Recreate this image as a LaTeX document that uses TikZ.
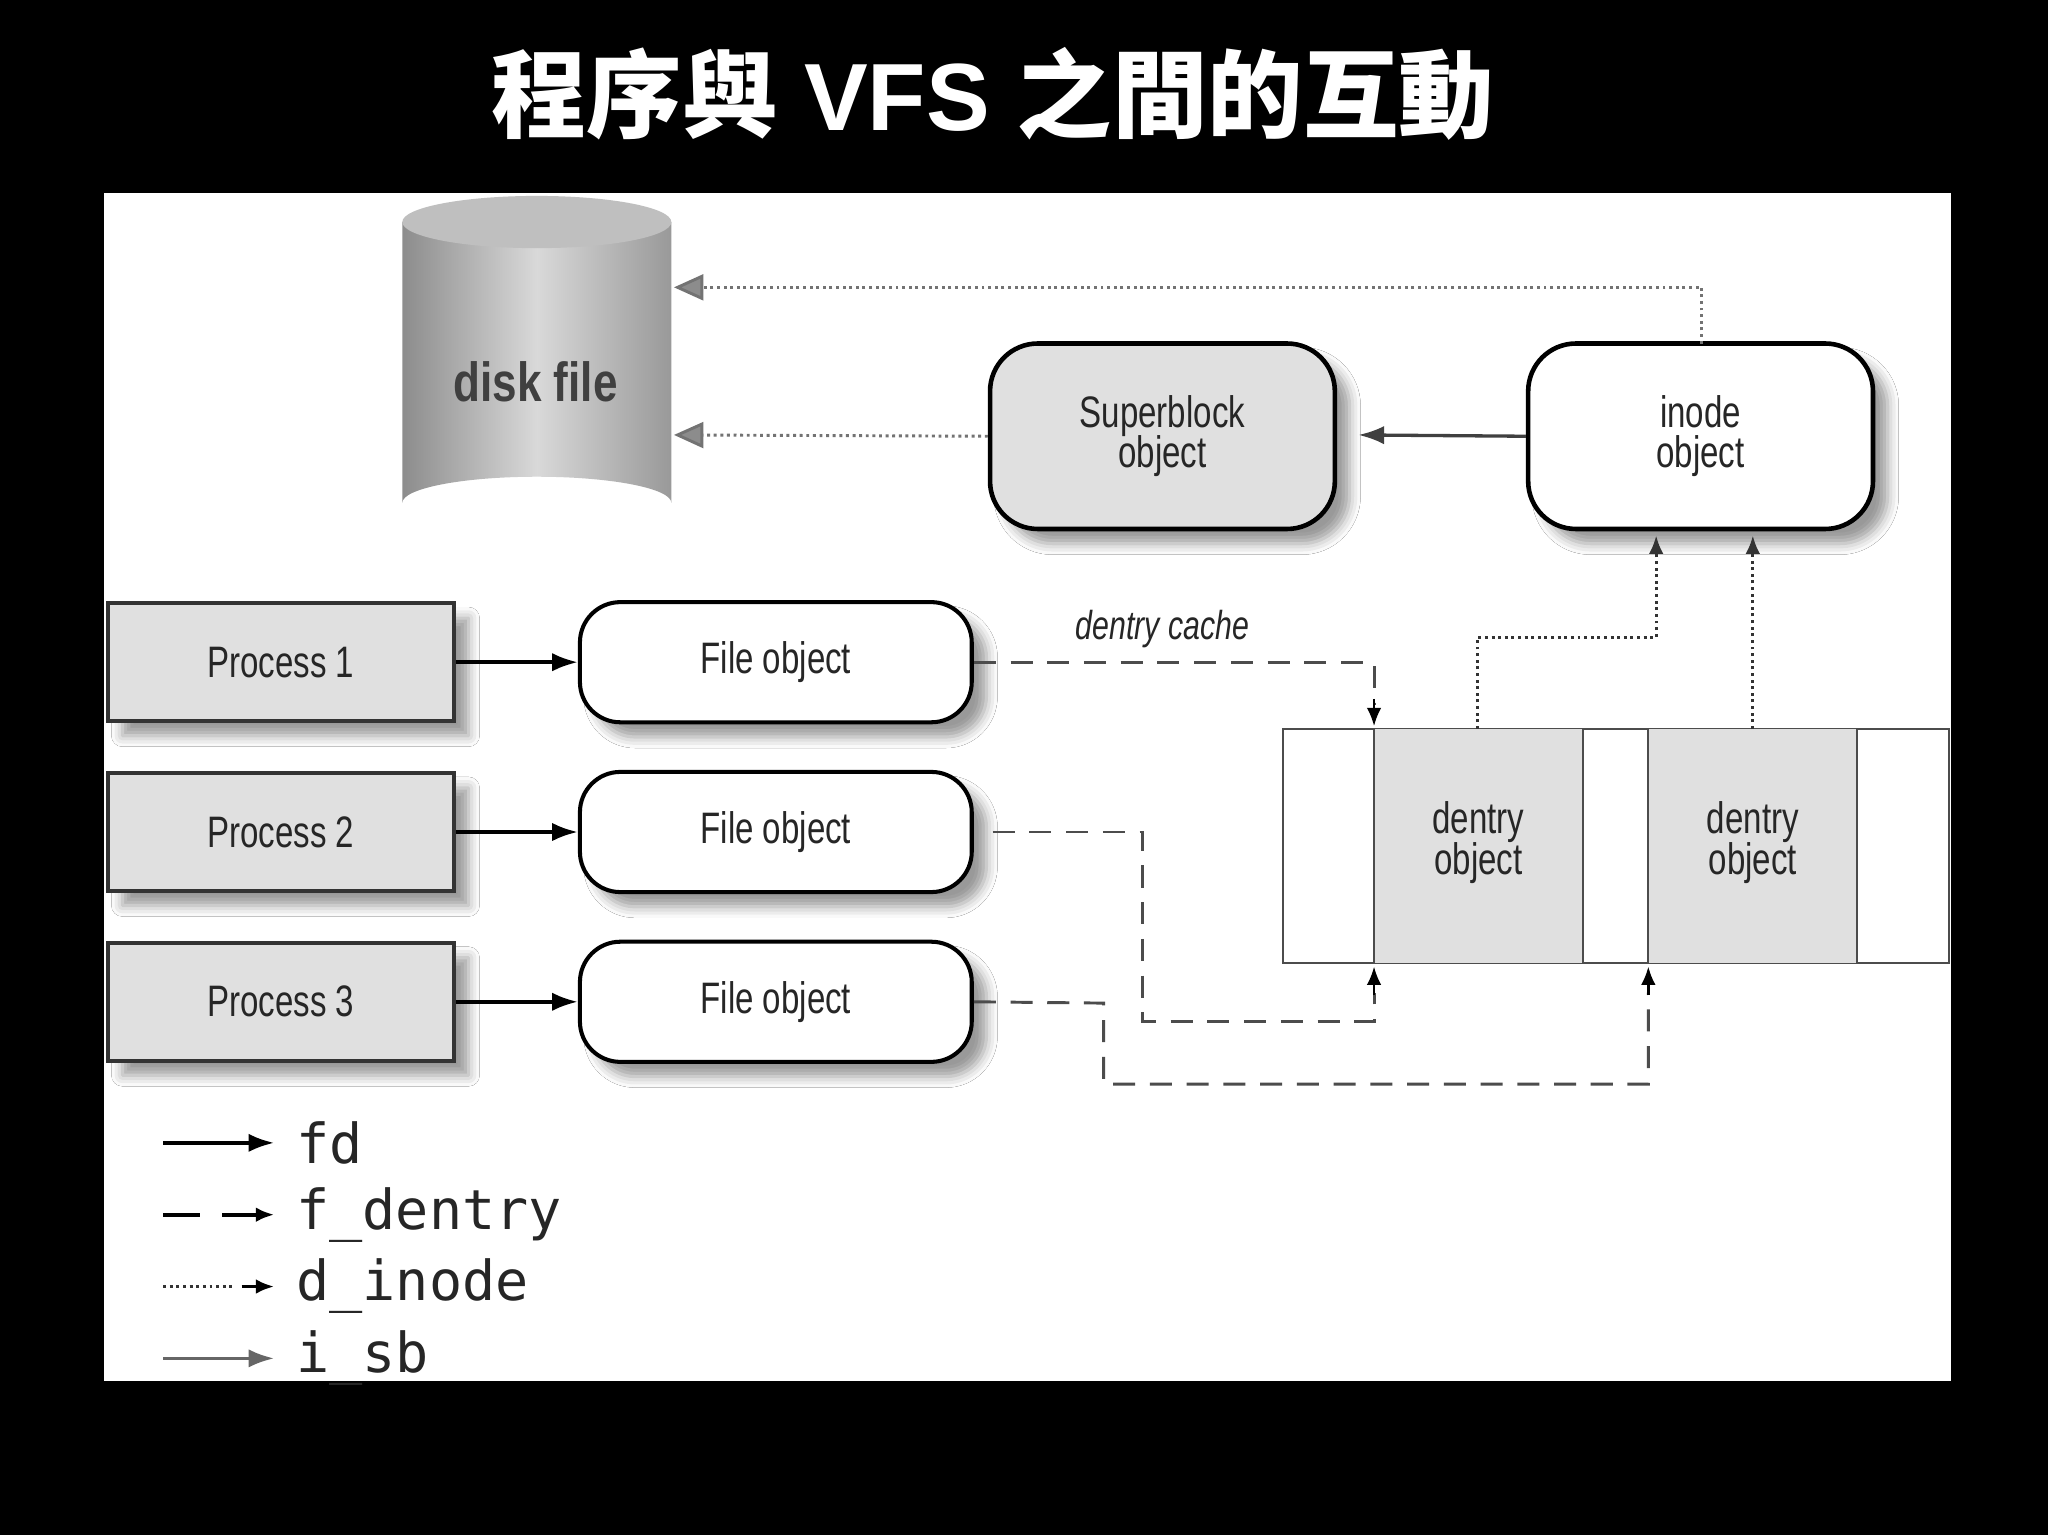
\documentclass[tikz,border=0pt]{standalone}
\usepackage{fontspec}
\setmainfont{Liberation Sans}
\newfontfamily\cjk{Noto Sans CJK TC}
\newfontfamily\mono{DejaVu Sans Mono}
\usetikzlibrary{arrows.meta,shadows.blur}
\begin{document}
\begin{tikzpicture}[x=0.025cm,y=-0.025cm,
  lbl/.style={font=\fontsize{24}{26}\selectfont\addfontfeatures{FakeStretch=0.75},align=center,text=black!85},
  proc/.style={draw=black!80,line width=2.2pt,fill=black!12,minimum width=265*0.025cm,minimum height=90*0.025cm,blur shadow={shadow xshift=8pt,shadow yshift=-8pt,shadow blur radius=6pt},lbl},
  fobj/.style={draw=black,line width=2.2pt,fill=white,rounded corners=22pt,minimum width=300*0.025cm,minimum height=92*0.025cm,blur shadow={shadow xshift=8pt,shadow yshift=-8pt,shadow blur radius=6pt},lbl},
  big/.style={draw=black,line width=2.5pt,rounded corners=26pt,minimum width=264*0.025cm,minimum height=142*0.025cm,blur shadow={shadow xshift=8pt,shadow yshift=-8pt,shadow blur radius=6pt},lbl},
  fd/.style={line width=2pt,-{Latex[length=14pt,width=10pt]}},
  fden/.style={line width=1.6pt,dash pattern=on 12pt off 8pt,draw=black!70},
  din/.style={line width=1.6pt,dotted,draw=black!70},
  gtip/.style={-{Triangle[length=16pt,width=14pt,fill=black!45]},draw=black!55},
  stip/.style={-{Latex[length=10pt,width=8pt]}}]
\fill[black] (0,0) rectangle (1568,1175);
\useasboundingbox (0,0) rectangle (1568,1175);
\fill[white] (80,148) rectangle (1494,1057);
\node[text=white,font=\fontsize{52}{56}\selectfont\bfseries] (title) at (760,72) {{\cjk 程序與} VFS {\cjk 之間的互動}};
% cylinder
\shade[left color=black!45,right color=black!40,middle color=black!15] (308,170) -- (308,385) arc[start angle=180,end angle=360,x radius=103,y radius=20] -- (514,170) -- cycle;
\fill[black!25] (411,170) ellipse[x radius=103,y radius=20];
\node[font=\fontsize{30}{32}\selectfont\bfseries\addfontfeatures{FakeStretch=0.8},text=black!75] (disk) at (410,292) {disk file};
\coordinate (dtop) at (516,220);
\coordinate (dmid) at (516,333);
% big boxes
\node[big,fill=black!12] (sb) at (890,334) {Superblock\\[-4pt]object};
\node[big,fill=white] (ino) at (1302,334) {inode\\[-4pt]object};
\draw[line width=1.8pt,draw=black!75,-{Latex[length=14pt,width=10pt]}] (ino.west) -- (1040,333);
\draw[din,gtip] (1303,263) -- (1303,220) -- (dtop);
\draw[din,gtip] (sb.west) -- (dmid);
% processes and files
\foreach \i/\y in {1/507,2/637,3/767}{
  \node[proc] (p\i) at (215,\y) {Process \i};
  \node[fobj] (f\i) at (594,\y) {File object};
  \draw[fd] (p\i.east) -- (f\i.west);
}
% dentry cache
\draw[line width=1.2pt,draw=black!70] (982,558) rectangle (1492,737);
\fill[black!12] (1052,558) rectangle (1212,737);
\fill[black!12] (1262,558) rectangle (1422,737);
\draw[line width=1.2pt,draw=black!70] (1052,558) -- (1052,737) (1212,558) -- (1212,737) (1262,558) -- (1262,737) (1422,558) -- (1422,737);
\node[lbl] (d1) at (1132,645) {dentry\\[-4pt]object};
\node[lbl] (d2) at (1342,645) {dentry\\[-4pt]object};
\node[lbl,font=\fontsize{22}{24}\selectfont\itshape\addfontfeatures{FakeStretch=0.75}] (dc) at (890,482) {dentry cache};
% f_dentry
\draw[fden] (f1.east) -- (1052,507) -- (1052,540);
\draw[stip,line width=1.4pt] (1052,535) -- (1052,556);
\draw[fden] (760,637) -- (875,637) -- (875,782) -- (1052,782) -- (1052,760);
\draw[stip,line width=1.4pt] (1052,762) -- (1052,740);
\draw[fden] (f3.east) -- (845,768) -- (845,830) -- (1262,830) -- (1262,760);
\draw[stip,line width=1.4pt] (1262,762) -- (1262,740);
% d_inode
\draw[din,stip,draw=black!80] (1131,558) -- (1131,488) -- (1268,488) -- (1268,410);
\draw[din,stip,draw=black!80] (1342,558) -- (1342,410);
% legend
\coordinate (l1) at (125,875); \coordinate (l1e) at (210,875);
\coordinate (l2) at (125,930); \coordinate (l2e) at (210,930);
\coordinate (l3) at (125,985); \coordinate (l3e) at (210,985);
\coordinate (l4) at (125,1040); \coordinate (l4e) at (210,1040);
\draw[fd] (l1) -- (l1e);
\draw[line width=2pt,dash pattern=on 20pt off 12pt] (l2) -- (l2e);
\draw[stip,line width=2pt] (185,930) -- (l2e);
\draw[din,draw=black!80] (l3) -- (180,985); \draw[stip,line width=2pt] (185,985) -- (l3e);
\draw[line width=2pt,draw=black!60,-{Latex[length=14pt,width=10pt]}] (l4) -- (l4e);
\foreach \n/\t/\y in {a/fd/875,b/f\_dentry/930,c/d\_inode/985,d/i\_sb/1040}
  \node[anchor=west,font=\mono\fontsize{30}{32}\selectfont,text=black!85] (lg\n) at (222,\y) {\t};
\end{tikzpicture}
\end{document}
